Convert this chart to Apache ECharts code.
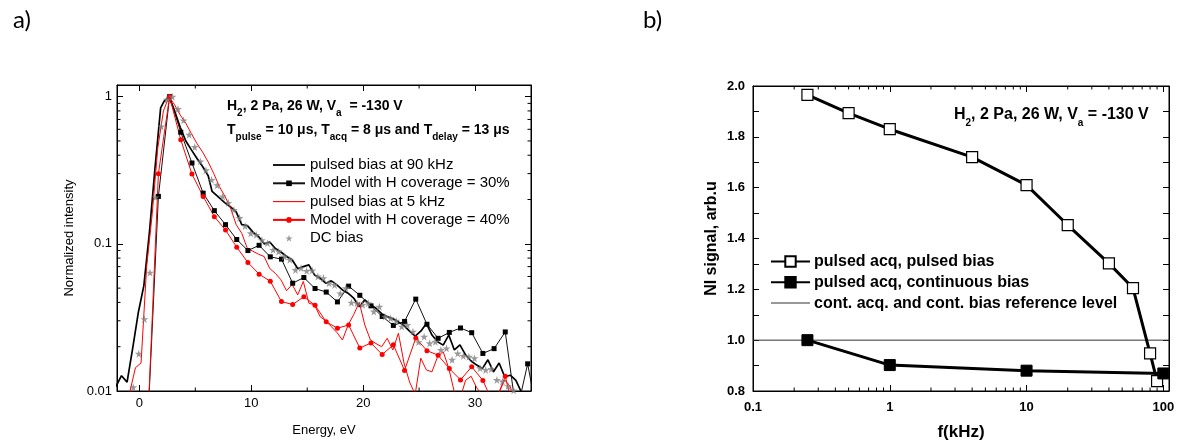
<!DOCTYPE html>
<html><head><meta charset="utf-8">
<script src="https://cdn.jsdelivr.net/npm/echarts@6/dist/echarts.min.js"></script>
<style>html,body{margin:0;padding:0;background:#fff}#c{width:1183px;height:446px}</style>
</head><body><div id="c"></div>
<script>
// ---------- panel a) data : [energy eV, normalized intensity] ----------
const bias90kHz = [[-2.1,0.0107],[-1.6,0.0127],[-1.1,0.0115],[-0.6,0.0195],[-0.1,0.034],[0.4,0.052],[0.9,0.12],[1.4,0.33],[1.9,0.84],[2.2,0.93],[2.65,1.0],[3.15,0.80],[3.65,0.62],[4.15,0.50],[4.65,0.435],[5.15,0.38],[5.65,0.335],[6.15,0.29],[6.5,0.227],[7.15,0.205],[7.65,0.19],[8.15,0.178],[8.65,0.165],[9.15,0.135],[9.65,0.133],[10.15,0.12],[10.65,0.112],[11.15,0.1],[11.65,0.103],[12.15,0.093],[12.65,0.088],[13.15,0.082],[13.65,0.078],[14.15,0.068],[14.65,0.07],[15.15,0.072],[15.65,0.0615],[16.15,0.0585],[16.65,0.054],[17.15,0.056],[17.65,0.0526],[18.15,0.0486],[18.65,0.0462],[19.15,0.0428],[19.65,0.0374],[20.15,0.0416],[20.65,0.0385],[21.15,0.0365],[21.65,0.0335],[22.15,0.032],[22.65,0.031],[23.15,0.0295],[23.65,0.0278],[24.15,0.0255],[24.65,0.0236],[25.15,0.0255],[25.65,0.0288],[26.15,0.024],[26.65,0.0216],[27.15,0.0205],[27.65,0.024],[28.15,0.019],[28.65,0.0206],[29.15,0.0176],[29.65,0.016],[30.15,0.015],[30.65,0.0142],[31.15,0.0163],[31.65,0.0135],[32.15,0.0155],[32.65,0.0125],[33.15,0.0128],[33.65,0.0118],[34.15,0.0098],[34.65,0.008],[35.15,0.007]];
const model30 = [[0.7,0.005],[1.7,0.21],[2.7,1.0],[3.7,0.573],[4.7,0.354],[5.7,0.221],[6.7,0.168],[7.7,0.135],[8.7,0.107],[9.7,0.090],[10.7,0.0977],[11.7,0.0816],[12.7,0.0787],[13.7,0.054],[14.7,0.059],[15.7,0.0497],[16.7,0.047],[17.7,0.0403],[18.7,0.0516],[19.7,0.0447],[20.7,0.0379],[21.7,0.0321],[22.7,0.0279],[23.7,0.0297],[24.7,0.0421],[25.7,0.0284],[26.7,0.0228],[27.7,0.025],[28.7,0.0268],[29.7,0.0249],[30.7,0.018],[31.7,0.0194],[32.7,0.0252],[33.7,0.007],[34.7,0.0153],[35.7,0.006]];
const bias5kHz = [[-1.35,0.006],[-0.85,0.0099],[-0.35,0.0144],[0.15,0.0155],[0.65,0.07],[1.15,0.16],[1.65,0.45],[2.15,0.8],[2.65,1.0],[3.15,0.88],[3.65,0.75],[4.15,0.66],[4.65,0.56],[5.15,0.48],[5.65,0.42],[6.15,0.36],[6.65,0.30],[7.15,0.245],[7.65,0.21],[8.15,0.175],[8.65,0.135],[9.15,0.118],[9.65,0.093],[10.15,0.089],[10.65,0.085],[11.15,0.082],[11.65,0.068],[12.15,0.063],[12.65,0.057],[13.15,0.048],[13.65,0.053],[14.15,0.045],[14.65,0.0555],[15.15,0.0395],[15.65,0.0385],[16.15,0.032],[16.65,0.030],[17.15,0.0274],[17.65,0.025],[18.15,0.0222],[18.65,0.028],[19.15,0.033],[19.65,0.04],[20.15,0.0281],[20.65,0.0222],[21.15,0.021],[21.65,0.02],[22.15,0.0228],[22.65,0.019],[23.15,0.0247],[23.65,0.0155],[24.15,0.0115],[24.65,0.0095],[25.15,0.0167],[25.65,0.0139],[26.15,0.0135],[26.65,0.0171],[27.15,0.0185],[27.65,0.0143],[28.15,0.0098],[28.65,0.0088],[29.15,0.0118],[29.65,0.0126],[30.15,0.0105],[30.65,0.0094],[31.15,0.0085],[31.65,0.0092],[32.15,0.0098],[32.65,0.0119],[33.15,0.0107],[33.65,0.008]];
const model40 = [[0.7,0.005],[1.7,0.299],[2.7,1.0],[3.7,0.509],[4.7,0.298],[5.7,0.21],[6.7,0.153],[7.7,0.124],[8.7,0.0949],[9.7,0.0747],[10.7,0.0622],[11.7,0.0557],[12.7,0.0405],[13.7,0.0387],[14.7,0.0437],[15.7,0.0382],[16.7,0.0295],[17.7,0.0267],[18.7,0.0281],[19.7,0.0196],[20.7,0.0212],[21.7,0.0177],[22.7,0.0206],[23.7,0.0138],[24.7,0.0229],[25.7,0.0188],[26.7,0.0175],[27.7,0.0142],[28.7,0.0119],[29.7,0.0146],[30.7,0.0118],[31.7,0.008],[32.7,0.0126],[33.7,0.006]];
const dcBias = [[-0.55,0.0106],[-0.05,0.0179],[0.45,0.0308],[0.95,0.0638],[1.45,0.207],[1.95,0.628],[2.45,0.955],[2.95,1.0],[3.45,0.824],[3.95,0.69],[4.45,0.552],[4.95,0.455],[5.45,0.363],[5.95,0.316],[6.45,0.272],[6.95,0.25],[7.45,0.21],[7.95,0.19],[8.45,0.17],[8.95,0.15],[9.45,0.132],[9.95,0.118],[10.45,0.115],[10.95,0.106],[11.45,0.101],[11.95,0.091],[12.45,0.0887],[12.95,0.082],[13.45,0.078],[13.95,0.0665],[14.45,0.0684],[14.95,0.0655],[15.45,0.066],[15.95,0.06],[16.45,0.0585],[16.95,0.054],[17.45,0.0526],[17.95,0.046],[18.45,0.05],[18.95,0.0399],[19.45,0.0395],[19.95,0.0385],[20.45,0.0395],[20.95,0.0347],[21.45,0.0374],[21.95,0.032],[22.45,0.0312],[22.95,0.030],[23.45,0.0274],[23.95,0.0281],[24.45,0.0253],[24.95,0.0215],[25.45,0.0234],[25.95,0.0211],[26.45,0.0216],[26.95,0.019],[27.45,0.0195],[27.95,0.0163],[28.45,0.018],[28.95,0.0173],[29.45,0.0171],[29.95,0.0167],[30.45,0.0143],[30.95,0.0139],[31.45,0.0141],[31.95,0.0119],[32.45,0.0116],[32.95,0.0108],[33.45,0.0101]];

// ---------- panel b) data ----------
const freqPulsed = [0.25, 0.5, 1, 4, 10, 20, 40, 60, 80, 90];
const niPulsed   = [1.965, 1.893, 1.83, 1.72, 1.61, 1.453, 1.302, 1.205, 0.948, 0.839];
const freqCont   = [0.25, 1, 10, 100];
const niCont     = [1.0, 0.902, 0.88, 0.869];
const refLevel   = 1.0;

// ---------- axes / ticks ----------
const energyMin = -2, energyMax = 35;
const intMin = 0.01, intMax = 1.2;
const energyMinorTicks = [5, 15, 25];
const intMinorTicks = [0.02,0.03,0.04,0.05,0.06,0.07,0.08,0.09,0.2,0.3,0.4,0.5,0.6,0.7,0.8,0.9];
const fMin = 0.1, fMax = 110;
const fMinorTicks = [0.2,0.3,0.4,0.5,0.6,0.7,0.8,0.9,2,3,4,5,6,7,8,9,20,30,40,50,60,70,80,90];
const niMin = 0.8, niMax = 2.0;

const FONT = 'Liberation Sans, Arial, sans-serif';
const STAR = 'path://M50,0 L61,35 L98,35 L68,57 L79,91 L50,70 L21,91 L32,57 L2,35 L39,35 Z';

function yTicksRender(len) {
  return function (params, api) {
    const cs = params.coordSys;
    const y = api.coord([api.value(0), api.value(1)])[1];
    return {type:'group', children:[
      {type:'line', shape:{x1:cs.x, y1:y, x2:cs.x+len, y2:y}, style:{stroke:'#000', lineWidth:1}},
      {type:'line', shape:{x1:cs.x+cs.width-len, y1:y, x2:cs.x+cs.width, y2:y}, style:{stroke:'#000', lineWidth:1}}
    ]};
  };
}
function xTicksRender(len) {
  return function (params, api) {
    const cs = params.coordSys;
    const x = api.coord([api.value(0), api.value(1)])[0];
    return {type:'group', children:[
      {type:'line', shape:{x1:x, y1:cs.y+cs.height, x2:x, y2:cs.y+cs.height-len}, style:{stroke:'#000', lineWidth:1}},
      {type:'line', shape:{x1:x, y1:cs.y, x2:x, y2:cs.y+len}, style:{stroke:'#000', lineWidth:1}}
    ]};
  };
}

const axisCommon = {
  axisLine:{show:true, onZero:false, lineStyle:{color:'#000', width:1}},
  axisTick:{show:true, inside:true, length:6, lineStyle:{color:'#000'}},
  splitLine:{show:false}
};

const labelA = {color:'#000', fontSize:13, fontFamily:FONT};
const labelB = {color:'#000', fontSize:13, fontWeight:'bold', fontFamily:FONT};

const richA = {
  b:{fontSize:14, fontWeight:'bold', fontFamily:FONT, color:'#000', lineHeight:17, verticalAlign:'top'},
  s:{fontSize:10, fontWeight:'bold', fontFamily:FONT, color:'#000', lineHeight:10, verticalAlign:'top', padding:[9,0,0,0]}
};
const richB = {
  b:{fontSize:16, fontWeight:'bold', fontFamily:FONT, color:'#000', lineHeight:19, verticalAlign:'top'},
  s:{fontSize:10, fontWeight:'bold', fontFamily:FONT, color:'#000', lineHeight:10, verticalAlign:'top', padding:[11,0,0,0]}
};

const option = {
  animation:false,
  backgroundColor:'#fff',
  title:[
    {text:'a)', left:8, top:3, textStyle:{fontFamily:'Lato', fontSize:24, fontWeight:'normal', color:'#000'}},
    {text:'b)', left:638, top:3, textStyle:{fontFamily:'Lato', fontSize:24, fontWeight:'normal', color:'#000'}},
    {text:'{b|H}{s|2}{b|, 2 Pa, 26 W, V}{s|a}{b|  = -130 V}', left:222, top:94, textStyle:{rich:richA}},
    {text:'{b|T}{s|pulse}{b| = 10 μs, T}{s|acq}{b| = 8 μs and T}{s|delay}{b| = 13 μs}', left:222, top:118, textStyle:{rich:richA}},
    {text:'{b|H}{s|2}{b|, 2 Pa, 26 W, V}{s|a}{b| = -130 V}', left:949, top:102, textStyle:{rich:richB}}
  ],
  legend:[
    {data:[
       {name:'pulsed bias at 90 kHz', icon:'path://M0,0 H32 V1.8 H0 Z'},
       {name:'Model with H coverage = 30%'},
       {name:'pulsed bias at 5 kHz', icon:'path://M0,0 H32 V1.1 H0 Z'},
       {name:'Model with H coverage = 40%'},
       {name:'DC bias'}],
     orient:'vertical', left:272, top:157.5, itemWidth:32, itemHeight:7, itemGap:3.3, padding:0,
     textStyle:{fontSize:15, color:'#000', fontFamily:FONT, padding:[0,0,0,0]}},
    {data:[
       {name:'pulsed acq, pulsed bias'},
       {name:'pulsed acq, continuous bias'},
       {name:'cont. acq. and cont. bias reference level', icon:'path://M0,0 H39 V1 H0 Z'}],
     orient:'vertical', left:770, top:253.5, itemWidth:39, itemHeight:13, itemGap:4.8, padding:0,
     textStyle:{fontSize:16, fontWeight:'bold', color:'#000', fontFamily:FONT, padding:[0,0,0,-1]}}
  ],
  grid:[
    {left:117, top:85, width:414, height:306, show:true, borderColor:'#000', borderWidth:1, backgroundColor:'transparent'},
    {left:753, top:86, width:416, height:307, show:true, borderColor:'#000', borderWidth:1, backgroundColor:'transparent'}
  ],
  xAxis:[
    Object.assign({type:'value', gridIndex:0, position:'bottom', min:energyMin, max:energyMax,
      axisLabel:{...labelA, margin:6, showMinLabel:false, showMaxLabel:false},
      name:'Energy, eV', nameLocation:'middle', nameGap:32.5, nameTextStyle:{...labelA}}, axisCommon),
    Object.assign({type:'value', gridIndex:0, position:'top', min:energyMin, max:energyMax,
      axisLabel:{show:false}}, axisCommon),
    Object.assign({type:'log', logBase:10, gridIndex:1, position:'bottom', min:fMin, max:fMax,
      axisLabel:{...labelB, margin:10, showMaxLabel:false},
      name:'f(kHz)', nameLocation:'middle', nameGap:33, nameTextStyle:{...labelB, fontSize:17}}, axisCommon),
    Object.assign({type:'log', logBase:10, gridIndex:1, position:'top', min:fMin, max:fMax,
      axisLabel:{show:false}}, axisCommon)
  ],
  yAxis:[
    Object.assign({type:'log', logBase:10, gridIndex:0, position:'left', min:intMin, max:intMax,
      axisLabel:{...labelA, margin:5, showMaxLabel:false},
      name:'Normalized intensity', nameLocation:'middle', nameGap:41, nameTextStyle:{...labelA}}, axisCommon),
    Object.assign({type:'log', logBase:10, gridIndex:0, position:'right', min:intMin, max:intMax,
      axisLabel:{show:false}}, axisCommon),
    Object.assign({type:'value', gridIndex:1, position:'left', min:niMin, max:niMax, interval:0.2,
      minorTick:{show:true, splitNumber:2, length:6, lineStyle:{color:'#000'}},
      axisLabel:{...labelB, margin:8, formatter:v => v.toFixed(1)},
      name:'NI signal, arb.u', nameLocation:'middle', nameGap:33, nameTextStyle:{...labelB, fontSize:16}}, axisCommon),
    Object.assign({type:'value', gridIndex:1, position:'right', min:niMin, max:niMax, interval:0.2,
      minorTick:{show:true, splitNumber:2, length:6, lineStyle:{color:'#000'}},
      axisLabel:{show:false}}, axisCommon)
  ],
  series:[
    {type:'custom', xAxisIndex:0, yAxisIndex:0, silent:true, renderItem:yTicksRender(3.5),
     data:intMinorTicks.map(v => [energyMin, v]), z:1},
    {type:'custom', xAxisIndex:0, yAxisIndex:0, silent:true, renderItem:xTicksRender(3.5),
     data:energyMinorTicks.map(v => [v, intMin]), z:1},
    {type:'custom', xAxisIndex:2, yAxisIndex:2, silent:true, renderItem:xTicksRender(3.5),
     data:fMinorTicks.map(v => [v, niMin]), z:1},

    {name:'DC bias', type:'scatter', xAxisIndex:0, yAxisIndex:0, data:dcBias,
     symbol:STAR, symbolSize:8, itemStyle:{color:'#808080'}, z:5},
    {name:'pulsed bias at 90 kHz', type:'line', xAxisIndex:0, yAxisIndex:0, data:bias90kHz,
     symbol:'none', lineStyle:{color:'#000', width:1.7}, itemStyle:{color:'#000'}, clip:true, z:3},
    {name:'Model with H coverage = 30%', type:'line', xAxisIndex:0, yAxisIndex:0, data:model30,
     symbol:'rect', symbolSize:5, showAllSymbol:true, lineStyle:{color:'#111', width:1}, itemStyle:{color:'#000'}, clip:true, z:4},
    {name:'pulsed bias at 5 kHz', type:'line', xAxisIndex:0, yAxisIndex:0, data:bias5kHz,
     symbol:'none', lineStyle:{color:'#ff0000', width:1}, itemStyle:{color:'#ff0000'}, clip:true, z:3},
    {name:'Model with H coverage = 40%', type:'line', xAxisIndex:0, yAxisIndex:0, data:model40,
     symbol:'circle', symbolSize:5, showAllSymbol:true, lineStyle:{color:'#ff0000', width:1}, itemStyle:{color:'#ff0000'}, clip:true, z:4},

    {name:'cont. acq. and cont. bias reference level', type:'line', xAxisIndex:2, yAxisIndex:2,
     data:[[fMin, refLevel],[fMax, refLevel]], symbol:'none', lineStyle:{color:'#333', width:1}, itemStyle:{color:'#333'}, z:2},
    {name:'pulsed acq, pulsed bias', type:'line', xAxisIndex:2, yAxisIndex:2,
     data:freqPulsed.map((f,i) => [f, niPulsed[i]]), symbol:'rect', symbolSize:11,
     lineStyle:{color:'#000', width:3}, itemStyle:{color:'#fff', borderColor:'#000', borderWidth:1.2}, z:3},
    {name:'pulsed acq, continuous bias', type:'line', xAxisIndex:2, yAxisIndex:2,
     data:freqCont.map((f,i) => [f, niCont[i]]), symbol:'rect', symbolSize:11,
     lineStyle:{color:'#000', width:3}, itemStyle:{color:'#000', borderColor:'#000', borderWidth:1}, z:4}
  ]
};

const chart = echarts.init(document.getElementById('c'), null, {renderer:'canvas'});
chart.setOption(option);
</script>
</body></html>
